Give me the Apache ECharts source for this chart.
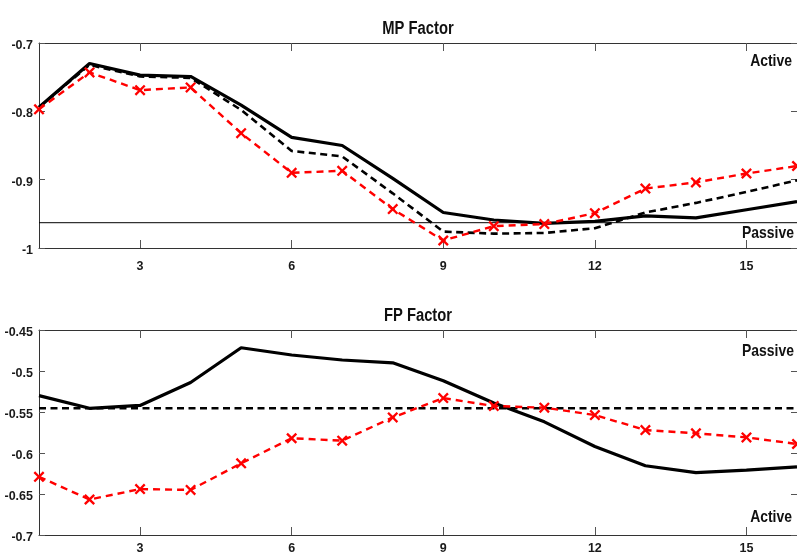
<!DOCTYPE html>
<html>
<head>
<meta charset="utf-8">
<script src="https://cdn.jsdelivr.net/npm/echarts@6/dist/echarts.min.js"></script>
<style>
  html, body { margin: 0; padding: 0; background: #fff; }
  #chart { width: 797px; height: 555px; }
</style>
</head>
<body>
<div id="chart"></div>
<script>
// Horizon (periods) shared by both panels
const steps = [1, 2, 3, 4, 5, 6, 7, 8, 9, 10, 11, 12, 13, 14, 15, 16];
const xTicks = [3, 6, 9, 12, 15];

// MP factor panel
const mpSolid  = [-0.794, -0.730, -0.747, -0.749, -0.791, -0.838, -0.850, -0.898, -0.948, -0.959, -0.964, -0.961, -0.953, -0.956, -0.944, -0.932];
const mpDashed = [-0.794, -0.732, -0.749, -0.751, -0.798, -0.858, -0.866, -0.920, -0.976, -0.979, -0.978, -0.971, -0.948, -0.934, -0.918, -0.901];
const mpRed    = [-0.797, -0.743, -0.769, -0.765, -0.832, -0.890, -0.887, -0.943, -0.989, -0.968, -0.965, -0.949, -0.913, -0.904, -0.891, -0.880];
const mpThreshold = -0.963;
const mpTicks = { min: -1, max: -0.7, interval: 0.1 };

// FP factor panel
const fpSolid  = [-0.530, -0.5455, -0.542, -0.514, -0.4716, -0.4805, -0.4866, -0.490, -0.512, -0.539, -0.562, -0.592, -0.6155, -0.624, -0.621, -0.617];
const fpDashed = [-0.5455, -0.5455, -0.5455, -0.5455, -0.5455, -0.5455, -0.5455, -0.5455, -0.5455, -0.5455, -0.5455, -0.5455, -0.5455, -0.5455, -0.5455, -0.5455];
const fpRed    = [-0.629, -0.6567, -0.644, -0.645, -0.6126, -0.582, -0.585, -0.5566, -0.533, -0.5427, -0.5447, -0.5537, -0.572, -0.576, -0.581, -0.589];
const fpTicks = { min: -0.7, max: -0.45, interval: 0.05 };

const FONT = "'Liberation Sans', Arial, Helvetica, sans-serif";
const AXIS_COLOR = '#333';
const NARROW = 0.82; // horizontal squeeze for the condensed bold lettering
const crossPath = 'path://M0,1.5 L1.5,0 L5,3.5 L8.5,0 L10,1.5 L6.5,5 L10,8.5 L8.5,10 L5,6.5 L1.5,10 L0,8.5 L3.5,5 Z';

const pairs = arr => steps.map((s, i) => [s, arr[i]]);

const grids = [
  { left: 39, right: 0, top: 43, height: 205 },
  { left: 39, right: 0, top: 330, height: 205 }
];

function xAxes(gridIndex, labelMargin) {
  const base = {
    type: 'value', gridIndex, min: 1, max: 16,
    axisLine: { show: true, lineStyle: { color: AXIS_COLOR, width: 1 } },
    axisTick: { show: true, inside: true, length: 8, customValues: xTicks, lineStyle: { color: '#555', width: 1 } },
    splitLine: { show: false }
  };
  return [
    Object.assign({}, base, {
      position: 'bottom',
      axisLabel: { show: true, customValues: xTicks, margin: labelMargin, fontFamily: FONT, fontWeight: 'bold', fontSize: 12.5, color: '#1a1a1a' }
    }),
    Object.assign({}, base, { position: 'top', axisLabel: { show: false } })
  ];
}

function yAxes(gridIndex, t) {
  const base = {
    type: 'value', gridIndex, min: t.min, max: t.max, interval: t.interval,
    axisLine: { show: true, lineStyle: { color: AXIS_COLOR, width: 1 } },
    axisTick: { show: true, inside: true, length: 6, lineStyle: { color: '#555', width: 1 } },
    splitLine: { show: false }
  };
  return [
    Object.assign({}, base, {
      position: 'left',
      axisLabel: { show: true, margin: 6, fontFamily: FONT, fontWeight: 'bold', fontSize: 12.5, color: '#1a1a1a',
        verticalAlign: 'top', padding: [-4, 0, 0, 0] }
    }),
    Object.assign({}, base, { position: 'right', axisLabel: { show: false } })
  ];
}

function solidLine(name, data, xi, yi) {
  return { name, type: 'line', xAxisIndex: xi, yAxisIndex: yi, data: pairs(data), showSymbol: false, symbol: 'none',
    lineStyle: { color: '#000', width: 3.2 }, z: 3, animation: false };
}
function dashedLine(name, data, xi, yi) {
  return { name, type: 'line', xAxisIndex: xi, yAxisIndex: yi, data: pairs(data), showSymbol: false, symbol: 'none',
    lineStyle: { color: '#000', width: 2.6, type: [7, 4.5] }, z: 2, animation: false };
}
function redLine(name, data, xi, yi) {
  return { name, type: 'line', xAxisIndex: xi, yAxisIndex: yi, data: pairs(data),
    symbol: crossPath, symbolSize: 11, showAllSymbol: true,
    itemStyle: { color: '#ff0000' },
    lineStyle: { color: '#ff0000', width: 2.4, type: [7, 5] }, z: 4, animation: false };
}

// Condensed bold text: titles and regime tags
function tag(text, x, y, size, align) {
  return { type: 'text', x, y, scaleX: NARROW, z: 10,
    style: { text, font: 'bold ' + size + 'px ' + FONT, fill: '#111', align, verticalAlign: 'middle' } };
}

const chart = echarts.init(document.getElementById('chart'), null, { renderer: 'canvas' });

chart.setOption({
  backgroundColor: '#fff',
  animation: false,
  grid: grids,
  xAxis: [...xAxes(0, 12), ...xAxes(1, 7)],
  yAxis: [...yAxes(0, mpTicks), ...yAxes(1, fpTicks)],
  series: [
    { name: 'MP threshold', type: 'line', xAxisIndex: 0, yAxisIndex: 0,
      data: [[1, mpThreshold], [16, mpThreshold]], symbol: 'none',
      lineStyle: { color: '#000', width: 1 }, z: 1, animation: false },
    dashedLine('MP dashed', mpDashed, 0, 0),
    solidLine('MP solid', mpSolid, 0, 0),
    redLine('MP red', mpRed, 0, 0),
    dashedLine('FP dashed', fpDashed, 2, 2),
    solidLine('FP solid', fpSolid, 2, 2),
    redLine('FP red', fpRed, 2, 2)
  ],
  graphic: [
    tag('MP Factor', 418, 29, 18, 'center'),
    tag('FP Factor', 418, 316, 18, 'center'),
    tag('Active', 792, 61, 17, 'right'),
    tag('Passive', 794, 233, 17, 'right'),
    tag('Passive', 794, 351, 17, 'right'),
    tag('Active', 792, 517, 17, 'right')
  ]
});
</script>
</body>
</html>
